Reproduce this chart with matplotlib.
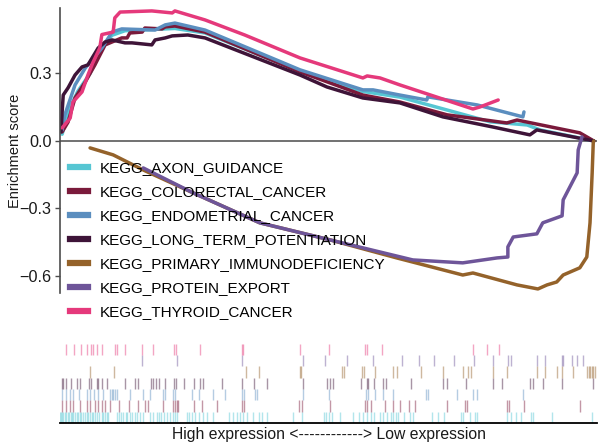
import matplotlib
matplotlib.use("Agg")
import matplotlib.pyplot as plt
from matplotlib.lines import Line2D

plt.rcParams['font.family'] = ['Liberation Sans', 'DejaVu Sans']

# gene sets, in legend order
sets = ['KEGG_AXON_GUIDANCE', 'KEGG_COLORECTAL_CANCER', 'KEGG_ENDOMETRIAL_CANCER',
        'KEGG_LONG_TERM_POTENTIATION', 'KEGG_PRIMARY_IMMUNODEFICIENCY',
        'KEGG_PROTEIN_EXPORT', 'KEGG_THYROID_CANCER']
colors = ['#56C6D3', '#7A1A3B', '#5B8EBF', '#3E1438', '#94622A', '#6E5599', '#E5397B']

# running enrichment score, (rank, score); ranks on 0..1000
axon_x = [4, 15, 33, 56, 78, 97, 121, 214, 270, 447, 564, 633, 801, 870, 894, 994]
axon_y = [0.03, 0.13, 0.22, 0.30, 0.42, 0.47, 0.49, 0.50, 0.48, 0.31, 0.22, 0.195, 0.085, 0.071, 0.049, 0.0]

colo_x = [4, 15, 28, 47, 65, 84, 115, 125, 130, 153, 158, 190, 196, 214, 270, 447, 564, 633, 721, 832, 851, 968, 994]
colo_y = [0.04, 0.084, 0.191, 0.262, 0.338, 0.427, 0.458, 0.458, 0.48, 0.484, 0.502, 0.498, 0.507, 0.511,
          0.484, 0.307, 0.204, 0.173, 0.116, 0.080, 0.093, 0.036, 0.0]

endo_x = [4, 9, 28, 47, 78, 97, 115, 177, 196, 214, 270, 447, 564, 583, 633, 683, 685, 777, 862, 864]
endo_y = [0.049, 0.116, 0.249, 0.324, 0.413, 0.484, 0.498, 0.493, 0.516, 0.524, 0.493, 0.316, 0.227,
          0.227, 0.204, 0.182, 0.196, 0.160, 0.107, 0.129]

ltp_x = [2, 4, 6, 15, 28, 41, 52, 71, 84, 97, 121, 134, 171, 177, 196, 209, 238, 270, 447, 497, 564,
         633, 713, 806, 875, 888, 994]
ltp_y = [0.04, 0.13, 0.204, 0.236, 0.293, 0.329, 0.338, 0.413, 0.44, 0.449, 0.436, 0.436, 0.427, 0.449,
         0.458, 0.467, 0.471, 0.458, 0.293, 0.24, 0.191, 0.169, 0.107, 0.062, 0.027, 0.049, 0.0]

pid_x = [56, 99, 155, 248, 372, 503, 627, 750, 769, 851, 890, 907, 925, 937, 968, 981, 987, 991, 993, 994]
pid_y = [-0.031, -0.062, -0.129, -0.231, -0.364, -0.44, -0.52, -0.596, -0.587, -0.64, -0.658, -0.64,
         -0.627, -0.596, -0.564, -0.516, -0.364, -0.142, -0.009, 0.0]

pexp_x = [155, 248, 372, 503, 657, 750, 814, 834, 834, 844, 888, 899, 935, 937, 963, 965, 972]
pexp_y = [-0.12, -0.231, -0.364, -0.44, -0.529, -0.542, -0.52, -0.516, -0.471, -0.427, -0.413, -0.364,
          -0.333, -0.262, -0.142, -0.04, 0.018]

thy_x = [4, 19, 24, 41, 52, 61, 74, 78, 99, 102, 112, 171, 209, 214, 270, 344, 447, 564, 572, 596,
         633, 769, 782, 816]
thy_y = [0.058, 0.102, 0.173, 0.218, 0.293, 0.347, 0.413, 0.473, 0.484, 0.547, 0.573, 0.578, 0.569,
         0.578, 0.538, 0.471, 0.369, 0.28, 0.289, 0.28, 0.249, 0.142, 0.151, 0.182]

# hit positions (gene ranks) for the barcode rows
axon_hits = [0, 2, 4, 6, 9, 11, 14, 16, 20, 23, 25, 28, 31, 34, 37, 40, 43, 47, 50, 53, 56, 59, 62,
             65, 69, 73, 78, 81, 84, 87, 90, 106, 110, 114, 118, 122, 125, 130, 135, 140, 144, 149,
             154, 168, 174, 180, 185, 189, 194, 199, 205, 210, 214, 218, 236, 240, 245, 251, 258,
             267, 273, 285, 315, 323, 329, 335, 341, 348, 360, 371, 377, 385, 433, 450, 492, 495,
             500, 506, 521, 546, 557, 564, 571, 579, 585, 596, 601, 609, 616, 621, 626, 630, 641,
             652, 658, 692, 703, 715, 746, 751, 764, 773, 776, 833, 839, 850, 858, 878, 881, 916, 991]
colo_hits = [3, 11, 19, 25, 37, 50, 56, 65, 71, 79, 84, 93, 109, 129, 146, 158, 164, 192, 211, 214,
             217, 220, 250, 265, 292, 339, 343, 445, 450, 503, 568, 571, 579, 605, 621, 633, 649,
             661, 720, 754, 757, 833, 837, 864, 968]
endo_hits = [3, 12, 19, 25, 36, 50, 56, 63, 71, 81, 93, 96, 99, 102, 107, 130, 154, 168, 191, 196,
             211, 215, 245, 258, 284, 307, 338, 343, 363, 366, 453, 501, 570, 574, 587, 601, 621,
             682, 686, 739, 770, 776, 863]
ltp_hits = [3, 6, 12, 20, 32, 37, 54, 57, 68, 71, 79, 87, 121, 140, 146, 169, 174, 178, 184, 196,
            212, 216, 230, 250, 261, 267, 301, 338, 362, 385, 453, 498, 503, 508, 561, 571, 574,
            585, 602, 607, 654, 714, 720, 756, 806, 824, 875, 881, 900, 934, 992]
pid_hits = [55, 101, 346, 371, 447, 449, 526, 529, 562, 566, 587, 620, 627, 672, 713, 751, 760, 765,
            807, 832, 889, 903, 925, 934, 956, 982, 985, 987, 990, 993, 996]
pexp_hits = [153, 217, 339, 453, 493, 534, 583, 636, 669, 696, 734, 771, 806, 835, 839, 888, 903,
             934, 937, 953, 962, 973]
thy_hits = [11, 27, 40, 51, 57, 62, 68, 79, 102, 107, 121, 153, 174, 213, 216, 261, 338, 341, 447,
            501, 568, 571, 599, 770, 796, 818]

curves = [(axon_x, axon_y), (colo_x, colo_y), (endo_x, endo_y), (ltp_x, ltp_y),
          (pid_x, pid_y), (pexp_x, pexp_y), (thy_x, thy_y)]
hits = [axon_hits, colo_hits, endo_hits, ltp_hits, pid_hits, pexp_hits, thy_hits]

fig = plt.figure(figsize=(6.02, 4.45), dpi=100)
W, H = 602, 445

# --- running ES panel ---
ax1 = fig.add_axes([60 / W, 1 - 293 / H, 537 / W, 285 / H])
for (xs, ys), c in zip(curves, colors):
    ax1.plot(xs, ys, color=c, lw=2.5, solid_joinstyle='round', solid_capstyle='round')
ax1.axhline(0, color='#595959', lw=1.2, zorder=0)
ax1.set_xlim(0, 1000)
ax1.set_ylim(-0.676, 0.591)
ax1.set_yticks([-0.6, -0.3, 0.0, 0.3])
ax1.set_yticklabels(['\u22120.6', '\u22120.3', '0.0', '0.3'])
ax1.set_xticks([])
for s in ['top', 'right', 'bottom']:
    ax1.spines[s].set_visible(False)
ax1.spines['left'].set_color('#4d4d4d')
ax1.spines['left'].set_linewidth(1.2)
ax1.tick_params(axis='y', colors='#4d4d4d', labelcolor='#1a1a1a', labelsize=11.7, length=3.5, width=1,
                pad=2.5)
ax1.set_ylabel('Enrichment score', fontsize=10.5, color='#1a1a1a', labelpad=-2)

handles = [Line2D([0], [0], color=c, lw=4.5) for c in colors]
fig.legend(handles, sets, loc='upper left', bbox_to_anchor=(70 / W, 1 - 161 / H),
           frameon=False, fontsize=11, handlelength=1.18, handletextpad=0.78,
           labelspacing=0.66, borderpad=0, borderaxespad=0)

# --- barcode panel ---
ax2 = fig.add_axes([60 / W, 1 - 423 / H, 537 / W, 90 / H])
for i, (h, c) in enumerate(zip(hits, colors)):
    ax2.vlines(h, i, i + 1, color=c, lw=1, alpha=0.45)
ax2.set_xlim(0, 1000)
ax2.set_ylim(0, 7.96)
ax2.set_xticks([])
ax2.set_yticks([])
for s in ['top', 'right', 'left']:
    ax2.spines[s].set_visible(False)
ax2.spines['bottom'].set_color('black')
ax2.spines['bottom'].set_linewidth(1.3)
ax2.set_xlabel('High expression <------------> Low expression', fontsize=11.3,
               color='#1a1a1a', labelpad=3)

fig.savefig('out.png', dpi=100)
